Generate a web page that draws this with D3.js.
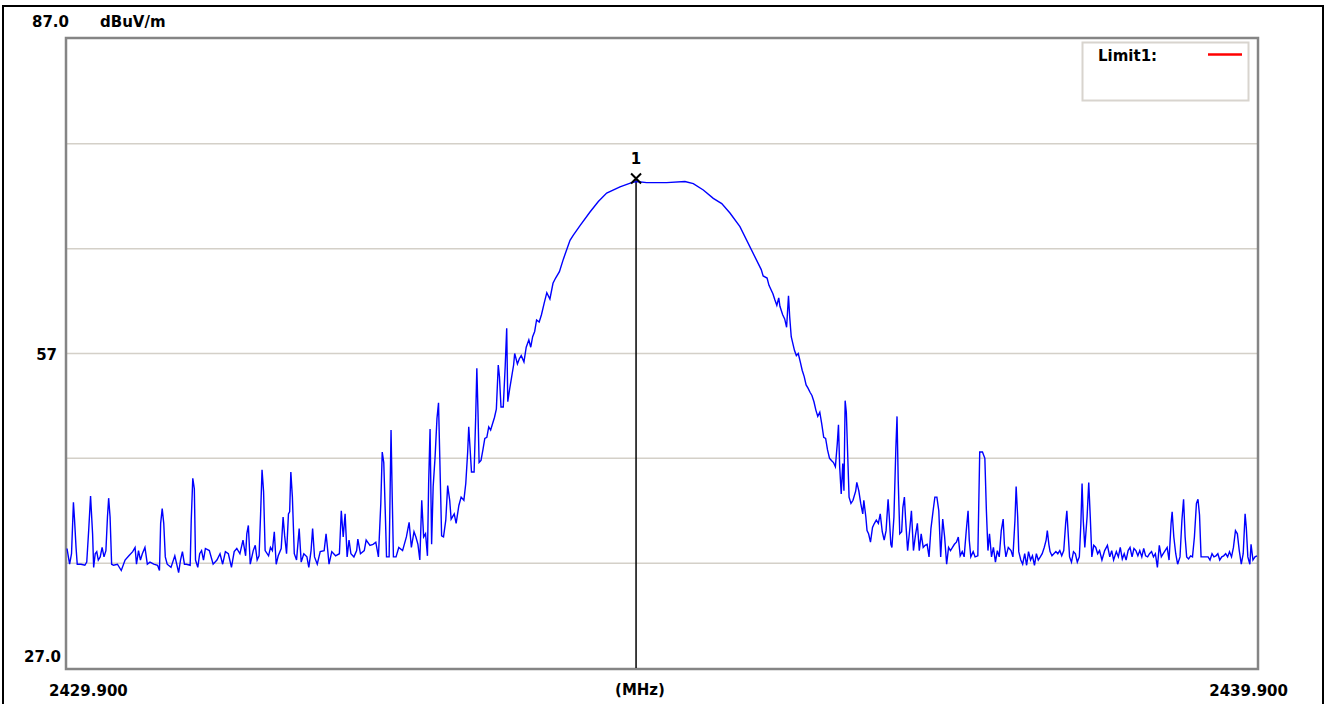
<!DOCTYPE html>
<html>
<head>
<meta charset="utf-8">
<script src="https://cdn.jsdelivr.net/npm/d3@7"></script>
<style>
  body { margin: 0; background: #fff; }
  svg text { font-family: "DejaVu Sans", sans-serif; font-weight: bold; font-size: 15px; fill: #000; }
</style>
</head>
<body>
<svg id="chart" width="1333" height="704"></svg>
<script>
// spectrum trace: [MHz, dBuV/m]
const noiseLeft = [
  [2429.900,38.4],[2429.922,36.9],[2429.938,37.9],[2429.954,42.8],[2429.963,41.2],[2429.976,38.5],[2429.986,36.9],
  [2430.018,36.9],[2430.050,36.8],[2430.066,37.1],[2430.082,40.1],[2430.098,43.4],[2430.115,39.8],[2430.124,36.6],
  [2430.137,37.9],[2430.150,38.1],[2430.163,37.3],[2430.179,37.6],[2430.195,38.5],[2430.211,37.6],[2430.227,38.2],
  [2430.240,41.4],[2430.250,43.2],[2430.262,41.4],[2430.275,36.9],[2430.291,36.8],[2430.324,36.9],[2430.356,36.3],
  [2430.388,37.3],[2430.420,37.7],[2430.452,38.1],[2430.472,38.5],[2430.484,36.9],[2430.501,38.2],[2430.517,37.3],
  [2430.533,37.9],[2430.555,38.5],[2430.575,36.9],[2430.597,37.1],[2430.629,36.9],[2430.661,36.8],[2430.677,36.3],
  [2430.687,40.8],[2430.700,42.2],[2430.713,40.8],[2430.726,37.6],[2430.742,36.9],[2430.774,36.6],[2430.806,37.7],
  [2430.822,36.9],[2430.838,36.1],[2430.854,37.3],[2430.870,38.1],[2430.887,36.9],[2430.903,36.9],[2430.935,36.8],
  [2430.944,41.1],[2430.957,45.1],[2430.970,44.1],[2430.980,37.3],[2430.999,36.6],[2431.015,37.9],[2431.031,38.2],
  [2431.047,37.3],[2431.063,38.4],[2431.096,38.2],[2431.128,36.9],[2431.160,37.3],[2431.186,37.9],[2431.208,36.9],
  [2431.231,38.1],[2431.256,37.9],[2431.282,36.6],[2431.305,38.1],[2431.327,38.4],[2431.353,37.9],[2431.379,39.2],
  [2431.401,37.7],[2431.411,39.8],[2431.424,40.6],[2431.440,36.9],[2431.465,38.2],[2431.482,38.7],[2431.498,37.3],
  [2431.514,37.7],[2431.527,41.7],[2431.539,45.9],[2431.552,43.8],[2431.565,38.2],[2431.594,37.7],[2431.610,38.5],
  [2431.626,38.2],[2431.642,40.0],[2431.658,36.9],[2431.675,37.7],[2431.700,38.4],[2431.716,41.4],[2431.729,39.6],
  [2431.745,37.9],[2431.761,41.7],[2431.771,41.9],[2431.781,45.7],[2431.794,43.3],[2431.810,37.9],[2431.829,37.3],
  [2431.851,40.3],[2431.868,37.1],[2431.890,37.9],[2431.916,37.6],[2431.932,36.6],[2431.951,38.2],[2431.964,40.3],
  [2431.980,37.6],[2432.003,36.9],[2432.028,38.1],[2432.061,38.2],[2432.077,39.8],[2432.086,38.8],[2432.102,36.9],
  [2432.125,38.1],[2432.157,37.7],[2432.189,37.9],[2432.205,42.0],[2432.221,39.5],[2432.237,41.7],[2432.254,37.6],
  [2432.270,39.2],[2432.286,37.9],[2432.311,37.6],[2432.334,38.2],[2432.344,39.3],[2432.366,37.9],[2432.398,38.2],
  [2432.414,39.2],[2432.446,38.7],[2432.472,38.8],[2432.495,39.0],[2432.517,37.6],[2432.537,42.7],[2432.549,47.6],
  [2432.562,46.6],[2432.575,41.7],[2432.585,37.6],[2432.607,37.6],[2432.623,49.7],[2432.633,43.3],[2432.643,37.6],
  [2432.665,37.6],[2432.688,38.5],[2432.720,38.2],[2432.752,39.5],[2432.775,40.9],[2432.794,38.5],[2432.816,40.0],
  [2432.832,39.5],[2432.849,38.8],[2432.865,37.3],[2432.881,43.0],[2432.897,39.5],[2432.913,39.8],[2432.929,37.7],
  [2432.939,44.6],[2432.951,49.8],[2432.964,38.8],[2432.977,44.3],[2432.993,47.1],[2433.009,50.8],[2433.022,52.3],
  [2433.035,45.9],[2433.048,39.6],[2433.064,39.5],[2433.083,41.1],[2433.099,44.4],[2433.116,43.0],[2433.128,41.2],
  [2433.154,41.7],[2433.170,40.8],[2433.193,42.5],[2433.212,43.3],[2433.235,43.0],[2433.251,44.6],[2433.267,47.6],
  [2433.276,50.0],[2433.289,47.6],[2433.299,45.7],[2433.321,45.7],[2433.334,50.8],[2433.344,55.6],[2433.354,51.3],
  [2433.363,46.6],[2433.379,46.8],[2433.395,47.8],[2433.411,48.9],[2433.428,49.0],[2433.444,50.0],[2433.460,49.7],
  [2433.476,50.3],[2433.492,50.9],[2433.508,51.7],[2433.524,55.9],[2433.534,54.8],[2433.547,51.9],[2433.566,51.9],
  [2433.582,55.7],[2433.595,59.4],[2433.604,52.4],[2433.621,53.7],[2433.637,54.8],[2433.653,55.9],[2433.662,57.0],
  [2433.685,56.0],[2433.701,56.5],[2433.717,56.8],[2433.740,56.2],[2433.759,57.6],[2433.781,58.3],[2433.797,57.6],
  [2433.813,58.6],[2433.830,59.1],[2433.846,60.2],[2433.868,60.0],[2433.887,60.7],[2433.910,61.8],[2433.932,62.8],
  [2433.958,62.2],[2433.984,63.7],[2434.006,64.2],[2434.038,64.8]
];

const mainLobe = [
  [2434.071,66.0],[2434.127,67.8],[2434.155,68.3],[2434.211,69.2],[2434.295,70.5],[2434.365,71.5],[2434.435,72.3],
  [2434.547,72.9],[2434.645,73.3],[2434.687,73.4],[2434.771,73.3],[2434.939,73.3],[2435.093,73.4],[2435.163,73.2],
  [2435.247,72.6],[2435.331,71.8],[2435.402,71.3],[2435.471,70.4],[2435.555,69.1]
];

const noiseRight = [
  [2435.734,65.0],[2435.750,64.4],[2435.783,64.2],[2435.799,63.5],[2435.832,62.7],[2435.849,62.1],[2435.865,61.6],
  [2435.881,62.3],[2435.891,61.5],[2435.914,60.7],[2435.931,60.3],[2435.947,59.5],[2435.963,62.5],[2435.973,60.5],
  [2435.986,58.6],[2436.013,57.3],[2436.029,56.8],[2436.045,57.0],[2436.062,56.2],[2436.078,55.4],[2436.095,54.8],
  [2436.111,54.0],[2436.127,53.7],[2436.144,53.3],[2436.160,53.0],[2436.177,52.4],[2436.193,51.6],[2436.209,51.0],
  [2436.226,51.4],[2436.242,50.3],[2436.259,49.0],[2436.275,48.9],[2436.291,47.8],[2436.308,47.0],[2436.324,46.8],
  [2436.341,46.6],[2436.357,46.2],[2436.373,48.4],[2436.383,50.2],[2436.393,46.2],[2436.406,43.6],[2436.419,46.5],
  [2436.429,43.9],[2436.439,52.5],[2436.449,51.4],[2436.462,46.8],[2436.472,43.3],[2436.488,42.7],[2436.505,43.0],
  [2436.528,43.9],[2436.537,44.7],[2436.554,43.9],[2436.570,42.7],[2436.587,41.7],[2436.596,43.0],[2436.613,41.4],
  [2436.623,40.1],[2436.636,39.8],[2436.652,39.0],[2436.669,40.4],[2436.685,40.8],[2436.701,41.1],[2436.718,40.8],
  [2436.734,41.7],[2436.751,40.0],[2436.767,39.2],[2436.783,40.1],[2436.800,43.1],[2436.810,41.4],[2436.823,38.8],
  [2436.832,38.5],[2436.849,41.4],[2436.865,47.9],[2436.875,51.0],[2436.885,44.9],[2436.898,39.8],[2436.914,40.0],
  [2436.924,42.3],[2436.937,43.3],[2436.947,41.2],[2436.964,38.2],[2436.980,40.0],[2436.996,42.0],[2437.013,38.2],
  [2437.029,39.6],[2437.046,40.8],[2437.062,38.2],[2437.078,39.8],[2437.095,38.5],[2437.111,38.7],[2437.128,38.8],
  [2437.144,37.6],[2437.160,40.3],[2437.177,41.9],[2437.193,43.3],[2437.210,43.3],[2437.226,42.0],[2437.242,37.6],
  [2437.259,41.2],[2437.275,39.5],[2437.292,36.9],[2437.308,38.5],[2437.324,38.2],[2437.341,38.5],[2437.357,38.8],
  [2437.374,39.0],[2437.390,39.5],[2437.406,37.7],[2437.423,38.1],[2437.439,37.6],[2437.456,40.0],[2437.472,42.0],
  [2437.482,39.2],[2437.495,37.6],[2437.515,38.1],[2437.531,37.6],[2437.554,37.7],[2437.570,47.6],[2437.593,47.6],
  [2437.613,47.0],[2437.626,42.0],[2437.639,38.2],[2437.652,39.8],[2437.669,37.6],[2437.685,38.5],[2437.702,37.1],
  [2437.718,38.2],[2437.734,37.6],[2437.751,40.1],[2437.767,41.2],[2437.777,38.8],[2437.790,37.6],[2437.810,38.5],
  [2437.833,38.2],[2437.849,37.6],[2437.866,41.1],[2437.876,44.3],[2437.889,41.4],[2437.898,38.1],[2437.915,37.3],
  [2437.931,36.9],[2437.948,37.9],[2437.964,36.8],[2437.980,38.1],[2437.997,37.3],[2438.013,37.7],[2438.030,36.8],
  [2438.046,37.9],[2438.062,37.3],[2438.079,37.6],[2438.095,37.9],[2438.112,38.5],[2438.128,39.2],[2438.138,40.1],
  [2438.151,38.8],[2438.161,38.1],[2438.177,37.7],[2438.210,38.1],[2438.226,37.9],[2438.243,38.2],[2438.259,37.7],
  [2438.276,38.2],[2438.292,40.8],[2438.302,42.0],[2438.315,39.5],[2438.325,37.6],[2438.341,37.1],[2438.358,38.1],
  [2438.374,37.9],[2438.390,37.1],[2438.407,37.6],[2438.420,40.8],[2438.430,44.6],[2438.440,41.1],[2438.453,38.5],
  [2438.472,41.4],[2438.486,44.7],[2438.499,41.4],[2438.512,37.6],[2438.528,38.7],[2438.545,38.5],[2438.561,37.9],
  [2438.577,38.2],[2438.597,37.3],[2438.620,38.2],[2438.643,38.7],[2438.663,37.6],[2438.679,38.2],[2438.695,37.3],
  [2438.718,38.1],[2438.735,37.6],[2438.751,38.5],[2438.768,37.4],[2438.784,37.9],[2438.800,37.3],[2438.817,38.2],
  [2438.833,38.5],[2438.850,37.6],[2438.866,38.4],[2438.882,38.2],[2438.899,37.7],[2438.915,38.2],[2438.932,37.6],
  [2438.948,38.4],[2438.964,37.7],[2438.981,37.6],[2438.997,37.9],[2439.014,38.1],[2439.030,37.6],[2439.046,37.9],
  [2439.063,36.6],[2439.079,38.7],[2439.096,37.6],[2439.112,37.9],[2439.128,38.2],[2439.145,38.5],[2439.161,37.3],
  [2439.178,40.8],[2439.187,41.9],[2439.201,39.5],[2439.217,37.9],[2439.233,36.9],[2439.253,37.6],[2439.269,41.1],
  [2439.283,43.1],[2439.296,39.5],[2439.309,37.6],[2439.325,37.4],[2439.342,37.7],[2439.358,37.6],[2439.374,39.5],
  [2439.391,42.7],[2439.404,43.1],[2439.417,41.6],[2439.430,37.6],[2439.450,37.6],[2439.473,37.6],[2439.489,37.6],
  [2439.505,37.3],[2439.522,37.9],[2439.538,37.6],[2439.555,37.7],[2439.571,37.9],[2439.587,37.3],[2439.604,37.6],
  [2439.620,37.7],[2439.637,37.9],[2439.653,37.6],[2439.669,38.1],[2439.686,37.6],[2439.702,38.5],[2439.719,40.1],
  [2439.735,39.8],[2439.751,38.2],[2439.768,36.9],[2439.784,37.9],[2439.800,41.7],[2439.810,40.4],[2439.823,37.6],
  [2439.840,36.9],[2439.850,38.8],[2439.866,37.3],[2439.883,37.6],[2439.900,37.7]
];

const freqRange = [2429.9, 2439.9];
const levelRange = [27, 87];
const gridLevels = [37, 47, 57, 67, 77];
const marker = { label: "1", freq: 2434.682, level: 73.7 };
const legendItems = [{ name: "Limit1:", color: "#ff0000" }];

const svg = d3.select('#chart');

const x = d3.scaleLinear().domain(freqRange).range([67, 1257]);
const y = d3.scaleLinear().domain(levelRange).range([668, 39]);

// outer black frame
svg.append('rect')
  .attr('x', 3).attr('y', 6)
  .attr('width', 1320).attr('height', 700)
  .attr('fill', 'none')
  .attr('stroke', '#000')
  .attr('stroke-width', 2);

// grid
svg.append('g')
  .selectAll('line')
  .data(gridLevels)
  .enter()
  .append('line')
  .attr('x1', x.range()[0]).attr('x2', x.range()[1])
  .attr('y1', d => y(d)).attr('y2', d => y(d))
  .attr('stroke', '#d4d0c8')
  .attr('stroke-width', 1.5);

// plot frame (sunken look)
svg.append('rect')
  .attr('x', x.range()[0] - 1).attr('y', y.range()[1] - 1)
  .attr('width', x.range()[1] - x.range()[0] + 2)
  .attr('height', y.range()[0] - y.range()[1] + 2)
  .attr('fill', 'none')
  .attr('stroke', '#858585')
  .attr('stroke-width', 2.5);

// legend box
const lg = svg.append('g');
lg.append('rect')
  .attr('x', 1082.5).attr('y', 42.5)
  .attr('width', 166).attr('height', 58)
  .attr('fill', '#fff')
  .attr('stroke', '#d8d4ce')
  .attr('stroke-width', 2);
legendItems.forEach((d, i) => {
  lg.append('text')
    .attr('x', 1098).attr('y', 61 + i * 18)
    .text(d.name);
  lg.append('line')
    .attr('x1', 1208).attr('x2', 1242)
    .attr('y1', 54.5 + i * 18).attr('y2', 54.5 + i * 18)
    .attr('stroke', d.color)
    .attr('stroke-width', 2.5);
});

// marker line
svg.append('line')
  .attr('x1', x(marker.freq)).attr('x2', x(marker.freq))
  .attr('y1', y(marker.level)).attr('y2', y(levelRange[0]))
  .attr('stroke', '#000')
  .attr('stroke-width', 1.5);

// trace
const trace = noiseLeft.concat(mainLobe, noiseRight);
const line = d3.line()
  .x(d => x(d[0]))
  .y(d => y(d[1]));

svg.append('path')
  .datum(trace)
  .attr('d', line)
  .attr('fill', 'none')
  .attr('stroke', '#0000ff')
  .attr('stroke-width', 1.4)
  .attr('stroke-linejoin', 'miter');

// marker cross + label
const mx = x(marker.freq), my = y(marker.level);
svg.append('path')
  .attr('d', `M${mx - 5},${my - 5}L${mx + 5},${my + 5}M${mx + 5},${my - 5}L${mx - 5},${my + 5}`)
  .attr('stroke', '#000')
  .attr('stroke-width', 2);
svg.append('text')
  .attr('x', mx).attr('y', my - 14)
  .attr('text-anchor', 'middle')
  .text(marker.label);

// axis texts
svg.append('text').attr('x', 32).attr('y', 27).text(levelRange[1].toFixed(1));
svg.append('text').attr('x', 100).attr('y', 27).text('dBuV/m');
svg.append('text').attr('x', 57).attr('y', y(57) + 6).attr('text-anchor', 'end').text('57');
svg.append('text').attr('x', 61).attr('y', y(levelRange[0]) - 6).attr('text-anchor', 'end').text(levelRange[0].toFixed(1));
svg.append('text').attr('x', x(freqRange[0]) - 18).attr('y', 696).text(freqRange[0].toFixed(3));
svg.append('text').attr('x', x(freqRange[1]) + 31).attr('y', 696).attr('text-anchor', 'end').text(freqRange[1].toFixed(3));
svg.append('text').attr('x', 640).attr('y', 695).attr('text-anchor', 'middle').text('(MHz)');
</script>
</body>
</html>
